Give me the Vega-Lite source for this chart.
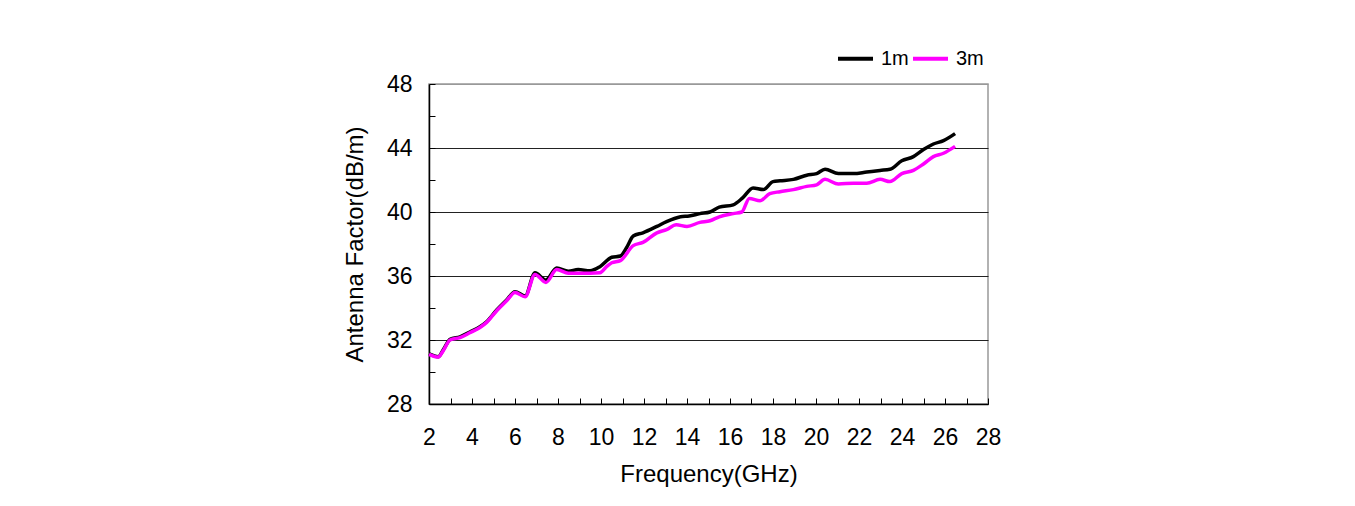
{
  "$schema": "https://vega.github.io/schema/vega-lite/v6.json",
  "width": 559,
  "height": 320,
  "autosize": {"type": "none"},
  "padding": {"left": 429, "top": 84, "right": 367, "bottom": 102},
  "background": "white",
  "config": {
    "font": "Liberation Sans",
    "view": {"stroke": "#999999", "strokeWidth": 1.5},
    "axis": {
      "labelFont": "Liberation Sans",
      "titleFont": "Liberation Sans",
      "labelColor": "#000000",
      "titleColor": "#000000",
      "labelFontSize": 23,
      "titleFontSize": 24,
      "titleFontWeight": "normal",
      "domainColor": "#000000",
      "domainWidth": 1.5,
      "tickColor": "#000000",
      "tickWidth": 1
    }
  },
  "data": {
    "values": [
      {"freq": 2.0, "af": 31.13, "dist": "1m"},
      {"freq": 2.43, "af": 30.96, "dist": "1m"},
      {"freq": 2.67, "af": 31.4, "dist": "1m"},
      {"freq": 2.98, "af": 32.04, "dist": "1m"},
      {"freq": 3.44, "af": 32.2, "dist": "1m"},
      {"freq": 3.9, "af": 32.5, "dist": "1m"},
      {"freq": 4.37, "af": 32.83, "dist": "1m"},
      {"freq": 4.68, "af": 33.14, "dist": "1m"},
      {"freq": 5.15, "af": 33.88, "dist": "1m"},
      {"freq": 5.61, "af": 34.5, "dist": "1m"},
      {"freq": 6.0, "af": 35.02, "dist": "1m"},
      {"freq": 6.47, "af": 34.75, "dist": "1m"},
      {"freq": 6.93, "af": 36.2, "dist": "1m"},
      {"freq": 7.44, "af": 35.75, "dist": "1m"},
      {"freq": 7.94, "af": 36.5, "dist": "1m"},
      {"freq": 8.48, "af": 36.3, "dist": "1m"},
      {"freq": 8.94, "af": 36.4, "dist": "1m"},
      {"freq": 9.49, "af": 36.33, "dist": "1m"},
      {"freq": 9.95, "af": 36.58, "dist": "1m"},
      {"freq": 10.5, "af": 37.17, "dist": "1m"},
      {"freq": 10.9, "af": 37.25, "dist": "1m"},
      {"freq": 11.2, "af": 37.8, "dist": "1m"},
      {"freq": 11.5, "af": 38.5, "dist": "1m"},
      {"freq": 11.95, "af": 38.7, "dist": "1m"},
      {"freq": 12.6, "af": 39.1, "dist": "1m"},
      {"freq": 13.05, "af": 39.4, "dist": "1m"},
      {"freq": 13.7, "af": 39.7, "dist": "1m"},
      {"freq": 14.1, "af": 39.75, "dist": "1m"},
      {"freq": 14.6, "af": 39.9, "dist": "1m"},
      {"freq": 15.07, "af": 40.0, "dist": "1m"},
      {"freq": 15.5, "af": 40.3, "dist": "1m"},
      {"freq": 16.15, "af": 40.45, "dist": "1m"},
      {"freq": 16.6, "af": 40.9, "dist": "1m"},
      {"freq": 17.07, "af": 41.5, "dist": "1m"},
      {"freq": 17.55, "af": 41.4, "dist": "1m"},
      {"freq": 18.0, "af": 41.9, "dist": "1m"},
      {"freq": 18.33, "af": 41.95, "dist": "1m"},
      {"freq": 18.95, "af": 42.04, "dist": "1m"},
      {"freq": 19.57, "af": 42.3, "dist": "1m"},
      {"freq": 20.03, "af": 42.4, "dist": "1m"},
      {"freq": 20.42, "af": 42.67, "dist": "1m"},
      {"freq": 21.04, "af": 42.4, "dist": "1m"},
      {"freq": 21.74, "af": 42.4, "dist": "1m"},
      {"freq": 22.36, "af": 42.5, "dist": "1m"},
      {"freq": 22.98, "af": 42.6, "dist": "1m"},
      {"freq": 23.44, "af": 42.67, "dist": "1m"},
      {"freq": 23.99, "af": 43.2, "dist": "1m"},
      {"freq": 24.53, "af": 43.46, "dist": "1m"},
      {"freq": 25.0, "af": 43.9, "dist": "1m"},
      {"freq": 25.46, "af": 44.25, "dist": "1m"},
      {"freq": 25.93, "af": 44.46, "dist": "1m"},
      {"freq": 26.47, "af": 44.9, "dist": "1m"},
      {"freq": 2.0, "af": 31.1, "dist": "3m"},
      {"freq": 2.43, "af": 30.93, "dist": "3m"},
      {"freq": 2.67, "af": 31.35, "dist": "3m"},
      {"freq": 2.98, "af": 32.0, "dist": "3m"},
      {"freq": 3.44, "af": 32.15, "dist": "3m"},
      {"freq": 3.9, "af": 32.45, "dist": "3m"},
      {"freq": 4.37, "af": 32.78, "dist": "3m"},
      {"freq": 4.68, "af": 33.1, "dist": "3m"},
      {"freq": 5.15, "af": 33.83, "dist": "3m"},
      {"freq": 5.61, "af": 34.45, "dist": "3m"},
      {"freq": 6.0, "af": 34.97, "dist": "3m"},
      {"freq": 6.47, "af": 34.7, "dist": "3m"},
      {"freq": 6.93, "af": 36.1, "dist": "3m"},
      {"freq": 7.44, "af": 35.6, "dist": "3m"},
      {"freq": 7.94, "af": 36.4, "dist": "3m"},
      {"freq": 8.48, "af": 36.17, "dist": "3m"},
      {"freq": 8.94, "af": 36.17, "dist": "3m"},
      {"freq": 9.49, "af": 36.17, "dist": "3m"},
      {"freq": 9.95, "af": 36.2, "dist": "3m"},
      {"freq": 10.27, "af": 36.6, "dist": "3m"},
      {"freq": 10.5, "af": 36.83, "dist": "3m"},
      {"freq": 10.9, "af": 36.96, "dist": "3m"},
      {"freq": 11.5, "af": 37.9, "dist": "3m"},
      {"freq": 11.95, "af": 38.1, "dist": "3m"},
      {"freq": 12.6, "af": 38.7, "dist": "3m"},
      {"freq": 13.05, "af": 38.9, "dist": "3m"},
      {"freq": 13.5, "af": 39.2, "dist": "3m"},
      {"freq": 14.0, "af": 39.1, "dist": "3m"},
      {"freq": 14.6, "af": 39.35, "dist": "3m"},
      {"freq": 15.07, "af": 39.45, "dist": "3m"},
      {"freq": 15.5, "af": 39.7, "dist": "3m"},
      {"freq": 16.15, "af": 39.9, "dist": "3m"},
      {"freq": 16.55, "af": 40.0, "dist": "3m"},
      {"freq": 16.9, "af": 40.85, "dist": "3m"},
      {"freq": 17.4, "af": 40.7, "dist": "3m"},
      {"freq": 17.85, "af": 41.15, "dist": "3m"},
      {"freq": 18.33, "af": 41.27, "dist": "3m"},
      {"freq": 18.95, "af": 41.4, "dist": "3m"},
      {"freq": 19.57, "af": 41.6, "dist": "3m"},
      {"freq": 20.03, "af": 41.7, "dist": "3m"},
      {"freq": 20.42, "af": 42.04, "dist": "3m"},
      {"freq": 21.04, "af": 41.75, "dist": "3m"},
      {"freq": 21.74, "af": 41.8, "dist": "3m"},
      {"freq": 22.36, "af": 41.8, "dist": "3m"},
      {"freq": 22.98, "af": 42.04, "dist": "3m"},
      {"freq": 23.44, "af": 41.9, "dist": "3m"},
      {"freq": 23.99, "af": 42.4, "dist": "3m"},
      {"freq": 24.53, "af": 42.6, "dist": "3m"},
      {"freq": 25.0, "af": 43.0, "dist": "3m"},
      {"freq": 25.46, "af": 43.46, "dist": "3m"},
      {"freq": 25.93, "af": 43.67, "dist": "3m"},
      {"freq": 26.47, "af": 44.1, "dist": "3m"}
    ]
  },
  "mark": {"type": "line", "strokeWidth": 3.5, "interpolate": "monotone"},
  "encoding": {
    "x": {
      "field": "freq",
      "type": "quantitative",
      "scale": {"domain": [2, 28], "nice": false, "zero": false},
      "axis": {
        "title": "Frequency(GHz)",
        "values": [2,3,4,5,6,7,8,9,10,11,12,13,14,15,16,17,18,19,20,21,22,23,24,25,26,27,28],
        "labelExpr": "datum.value % 2 === 0 ? datum.label : ''",
        "labelFlush": false,
        "labelOverlap": false,
        "tickSize": -6,
        "labelPadding": 28,
        "titlePadding": 13,
        "grid": false
      }
    },
    "y": {
      "field": "af",
      "type": "quantitative",
      "scale": {"domain": [28, 48], "nice": false, "zero": false},
      "axis": {
        "title": "Antenna Factor(dB/m)",
        "values": [28,30,32,34,36,38,40,42,44,46,48],
        "labelExpr": "datum.value % 4 === 0 ? datum.label : ''",
        "labelOverlap": false,
        "tickSize": -6,
        "labelPadding": 23,
        "titlePadding": 19,
        "grid": true,
        "gridColor": {"condition": {"test": "datum.value === 48", "value": "#999999"}, "value": "#222222"},
        "gridOpacity": {"condition": {"test": "datum.value % 4 === 0", "value": 1}, "value": 0},
        "gridWidth": 1.2
      }
    },
    "color": {
      "field": "dist",
      "type": "nominal",
      "scale": {"domain": ["1m", "3m"], "range": ["#000000", "#FF00FF"]},
      "legend": {
        "title": null,
        "orient": "none",
        "legendX": 407,
        "legendY": -45,
        "direction": "horizontal",
        "symbolType": "stroke",
        "symbolStrokeWidth": 4,
        "symbolSize": 1225,
        "labelFont": "Liberation Sans",
        "labelFontSize": 20,
        "labelColor": "#000000",
        "columnPadding": -4,
        "labelOffset": 6
      }
    }
  }
}
